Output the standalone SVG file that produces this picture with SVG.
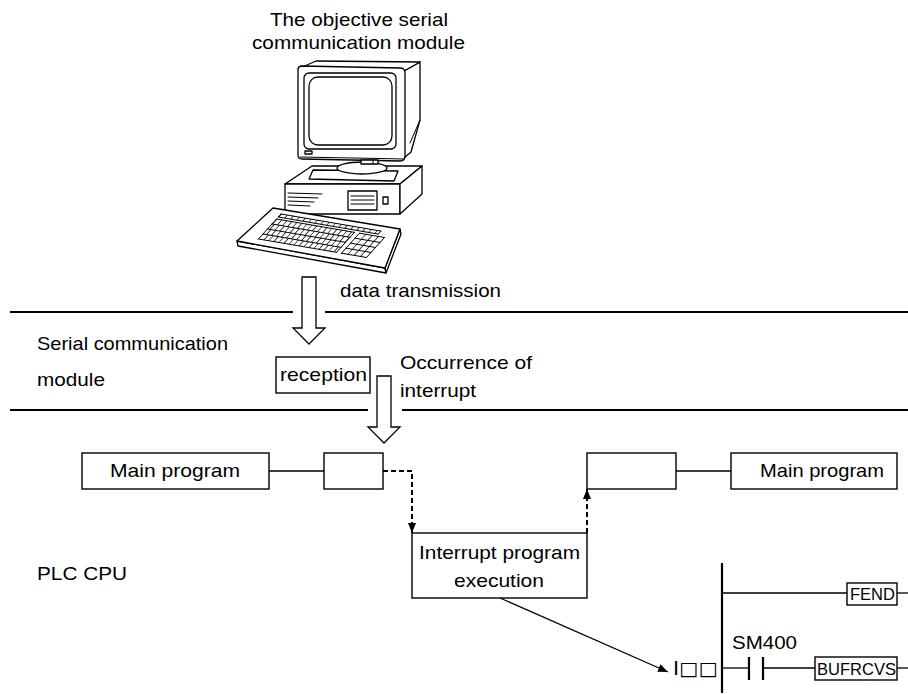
<svg xmlns="http://www.w3.org/2000/svg" width="908" height="694" viewBox="0 0 908 694">
  <defs>
    <style>
      .t { font-family: "Liberation Sans", Arial, sans-serif; font-size: 19px; fill: #000; }
      .ts { font-family: "Liberation Sans", Arial, sans-serif; font-size: 17px; fill: #000; }
      .sym { font-family: "DejaVu Sans", "Liberation Sans", sans-serif; font-size: 19px; fill: #000; }
      .box { fill: #fff; stroke: #000; stroke-width: 1.4; }
      .ln { fill: none; stroke: #000; stroke-width: 1.3; }
      .sep { fill: none; stroke: #000; stroke-width: 2; }
      .rail { fill: none; stroke: #000; stroke-width: 2.2; }
      .dash { fill: none; stroke: #000; stroke-width: 2; stroke-dasharray: 5 3; }
      .hollow { fill: #fff; stroke: #000; stroke-width: 1.3; stroke-linejoin: miter; }
      .ill { fill: #fff; stroke: #000; stroke-width: 1.3; stroke-linejoin: round; stroke-linecap: round; }
      .ill-thin { fill: none; stroke: #000; stroke-width: 1; stroke-linecap: round; }
      .ns { vector-effect: non-scaling-stroke; }
    </style>
    <marker id="head" viewBox="0 0 10 8" refX="10" refY="4" markerWidth="10" markerHeight="8" markerUnits="userSpaceOnUse" orient="auto">
      <path d="M0,0 L10,4 L0,8 Z" fill="#000"/>
    </marker>
  </defs>

  <rect width="908" height="694" fill="#fff"/>

  <!-- layer separators -->
  <g id="separators">
    <line class="sep" x1="10" y1="312" x2="293" y2="312"/>
    <line class="sep" x1="325" y1="312" x2="908" y2="312"/>
    <line class="sep" x1="10" y1="410" x2="368" y2="410"/>
    <line class="sep" x1="402" y1="410" x2="908" y2="410"/>
  </g>

  <!-- personal computer -->
  <g id="computer">
    <text class="t" x="270" y="26" textLength="178" lengthAdjust="spacingAndGlyphs">The objective serial</text>
    <text class="t" x="252" y="49" textLength="213" lengthAdjust="spacingAndGlyphs">communication module</text>

    <!-- system unit -->
    <polygon class="ill" points="285,184 312,166 422,166 400,184"/>
    <polygon class="ill" points="285,184 400,184 400,214 285,214"/>
    <polygon class="ill" points="400,184 422,166 422,194 400,214"/>
    <g class="ill-thin">
      <line x1="288" y1="193" x2="322" y2="194"/>
      <line x1="288" y1="197" x2="318" y2="198"/>
      <line x1="288" y1="201" x2="314" y2="202"/>
      <line x1="288" y1="205" x2="310" y2="206"/>
    </g>
    <rect class="ill" x="348" y="191" width="29" height="19"/>
    <g class="ill-thin">
      <line x1="351" y1="196" x2="374" y2="196"/>
      <line x1="351" y1="200" x2="374" y2="200"/>
      <line x1="351" y1="204" x2="374" y2="204"/>
    </g>
    <rect class="ill" x="383" y="197" width="5" height="7"/>

    <!-- monitor plinth and swivel -->
    <polygon class="ill" points="313,170 398,171 394,181 309,179"/>
    <ellipse class="ill" cx="362" cy="168" rx="25" ry="6"/>

    <!-- monitor cabinet -->
    <polygon class="ill" points="404,71 420,62 420,120 411,152 404,158"/>
    <line class="ill-thin" x1="420" y1="120" x2="410" y2="143"/>
    <polygon class="ill" points="298,69 316,61 420,62 404,71"/>
    <path class="ill" d="M302,66 L400,68 Q405,68 405,73 L405,156 Q405,161 400,161 L302,159 Q298,159 298,155 L298,70 Q298,66 302,66 Z"/>
    <rect class="ill" x="304" y="73" width="92" height="76" rx="5"/>
    <rect class="ill" x="309" y="77" width="83" height="68" rx="9"/>
    <rect class="ill" x="305" y="151" width="7" height="3"/>
    <line class="ill-thin" x1="300" y1="157" x2="404" y2="159"/>
    <rect class="ill" x="361" y="160" width="17" height="4"/>
    <line class="ill-thin" x1="373" y1="160" x2="373" y2="164"/>

    <!-- keyboard -->
    <polygon class="ill" points="237,241 385,268 386,273 238,246"/>
    <polygon class="ill" points="400,229 401,234 386,273 385,268"/>
    <polygon class="ill" points="273,208 400,229 385,268 237,241"/>
    <g transform="matrix(1 0.171 -0.9 1 281 214)">
      <g class="ill-thin ns">
        <path class="ns" d="M0,0 H100 M0,3 H100 M0,0 V3 M100,0 V3"/>
        <path class="ns" d="M0,5 H78 M0,10 H78 M0,15 H78 M0,20 H78 M0,25 H78 M0,5 V25 M78,5 V25"/>
        <path class="ns" d="M83,5 H108 M83,10 H108 M83,15 H108 M83,20 H108 M83,25 H108 M83,5 V25 M108,5 V25"/>
      </g>
      <g fill="none" stroke="#000">
        <line x1="0" y1="1.5" x2="100" y2="1.5" stroke-width="3" stroke-dasharray="0.8 5.2"/>
        <line x1="0" y1="7.5" x2="78" y2="7.5" stroke-width="5" stroke-dasharray="0.8 4.2"/>
        <line x1="2" y1="12.5" x2="78" y2="12.5" stroke-width="5" stroke-dasharray="0.8 4.2"/>
        <line x1="3" y1="17.5" x2="78" y2="17.5" stroke-width="5" stroke-dasharray="0.8 4.2"/>
        <line x1="5" y1="22.5" x2="78" y2="22.5" stroke-width="5" stroke-dasharray="0.8 4.2"/>
        <line x1="89" y1="7.5" x2="108" y2="7.5" stroke-width="5" stroke-dasharray="0.8 5.5"/>
        <line x1="89" y1="12.5" x2="108" y2="12.5" stroke-width="5" stroke-dasharray="0.8 5.5"/>
        <line x1="89" y1="17.5" x2="108" y2="17.5" stroke-width="5" stroke-dasharray="0.8 5.5"/>
        <line x1="89" y1="22.5" x2="108" y2="22.5" stroke-width="5" stroke-dasharray="0.8 5.5"/>
      </g>
    </g>
  </g>

  <!-- layer labels -->
  <g id="labels">
    <text class="t" x="37" y="350" textLength="191" lengthAdjust="spacingAndGlyphs">Serial communication</text>
    <text class="t" x="37" y="386" textLength="68" lengthAdjust="spacingAndGlyphs">module</text>
    <text class="t" x="37" y="580" textLength="90" lengthAdjust="spacingAndGlyphs">PLC CPU</text>
    <text class="t" x="340" y="297" textLength="161" lengthAdjust="spacingAndGlyphs">data transmission</text>
    <text class="t" x="400" y="369" textLength="132" lengthAdjust="spacingAndGlyphs">Occurrence of</text>
    <text class="t" x="400" y="397" textLength="76" lengthAdjust="spacingAndGlyphs">interrupt</text>
  </g>

  <!-- hollow flow arrows -->
  <g id="flow-arrows">
    <polygon class="hollow" points="302,277 316,277 316,328 325,328 309,344 293,328 302,328"/>
    <polygon class="hollow" points="377,376 391,376 391,427 400,427 384,443 368,427 377,427"/>
  </g>

  <g id="reception">
    <rect class="box" x="276" y="357" width="94" height="36"/>
    <text class="t" x="280" y="381" textLength="87" lengthAdjust="spacingAndGlyphs">reception</text>
  </g>

  <g id="main-program-1">
    <rect class="box" x="82" y="453" width="187" height="36"/>
    <text class="t" x="110" y="477" textLength="130" lengthAdjust="spacingAndGlyphs">Main program</text>
  </g>
  <g id="break-1">
    <rect class="box" x="324" y="453" width="59" height="36"/>
  </g>
  <g id="resume-1">
    <rect class="box" x="587" y="453" width="89" height="36"/>
  </g>
  <g id="main-program-2">
    <rect class="box" x="731" y="453" width="166" height="36"/>
    <text class="t" x="760" y="477" textLength="124" lengthAdjust="spacingAndGlyphs">Main program</text>
  </g>
  <g id="interrupt-program">
    <rect class="box" x="412" y="533" width="175" height="65"/>
    <text class="t" x="419" y="559" textLength="161" lengthAdjust="spacingAndGlyphs">Interrupt program</text>
    <text class="t" x="454" y="587" textLength="90" lengthAdjust="spacingAndGlyphs">execution</text>
  </g>

  <!-- ladder fragment -->
  <g id="ladder">
    <line class="rail" x1="722" y1="563" x2="722" y2="693"/>
    <line class="ln" x1="722" y1="593" x2="847" y2="593"/>
    <rect class="box" x="847" y="583" width="50" height="22"/>
    <text class="ts" x="850" y="600" textLength="45" lengthAdjust="spacingAndGlyphs">FEND</text>
    <line class="ln" x1="897" y1="593" x2="908" y2="593"/>

    <text class="t" x="732" y="649" textLength="65" lengthAdjust="spacingAndGlyphs">SM400</text>
    <line class="ln" x1="722" y1="668" x2="749" y2="668"/>
    <line class="rail" x1="749" y1="657" x2="749" y2="680"/>
    <line class="rail" x1="763" y1="657" x2="763" y2="680"/>
    <line class="ln" x1="763" y1="668" x2="815" y2="668"/>
    <rect class="box" x="815" y="657" width="82" height="23"/>
    <text class="ts" x="817" y="675" textLength="79" lengthAdjust="spacingAndGlyphs">BUFRCVS</text>
    <line class="ln" x1="897" y1="668" x2="908" y2="668"/>

    <text class="sym" x="673" y="675" textLength="45" lengthAdjust="spacingAndGlyphs">I□□</text>
  </g>

  <!-- connectors -->
  <g id="connectors">
    <line class="ln" x1="269" y1="471" x2="324" y2="471"/>
    <line class="ln" x1="676" y1="471" x2="731" y2="471"/>
    <path class="dash" d="M383,471 H412 V533" marker-end="url(#head)"/>
    <path class="dash" d="M587,533 V489" marker-end="url(#head)"/>
    <line class="ln" x1="500" y1="598" x2="668" y2="672" marker-end="url(#head)"/>
  </g>
</svg>
